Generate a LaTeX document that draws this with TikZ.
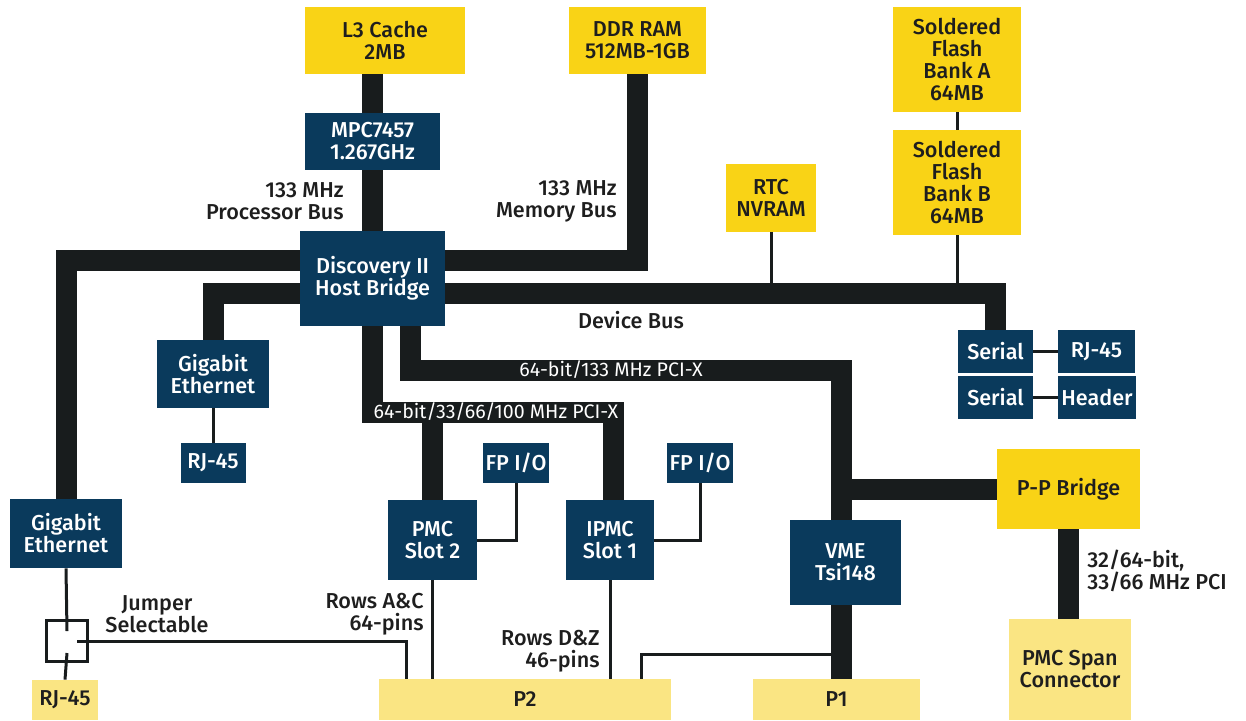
\documentclass[tikz,border=0pt]{standalone}
\usepackage{fontspec}
\setmainfont{Fira Sans}[BoldFont={Fira Sans Medium}]
\usepackage{tikz}
\usetikzlibrary{calc,backgrounds}
\definecolor{navy}{HTML}{0A3A5C}
\definecolor{gold}{HTML}{F9D316}
\definecolor{pale}{HTML}{FAE583}
\definecolor{busink}{HTML}{181C1D}
\definecolor{txt}{HTML}{1E1E1E}
\tikzset{
  sz/.style 2 args={minimum width={#1*0.5pt},minimum height={#2*0.5pt}},
  box/.style={inner sep=0pt,align=center,font=\bfseries\fontsize{10.8}{11}\selectfont},
  navybox/.style={box,fill=navy,text=white},
  goldbox/.style={box,fill=gold,text=txt},
  palebox/.style={box,fill=pale,text=txt},
  bus/.style={line width=10.5pt,draw=busink,line join=miter},
  wire/.style={line width=1.5pt,draw=busink},
  note/.style={inner sep=0pt,text=txt,font=\bfseries\fontsize{10.8}{11}\selectfont},
  buslabel/.style={inner sep=0pt,text=white,font=\fontsize{9.8}{10}\selectfont},
}

\begin{document}
\begin{tikzpicture}[x=0.5pt,y=-0.5pt]
    \useasboundingbox (0,0) rectangle (1246,720);
    % memory and processor
    \node[goldbox,sz={160}{67}] (l3) at (385,40.5) {L3 Cache\\2MB};
    \node[goldbox,sz={137}{67}] (ddr) at (637.5,40.5) {DDR RAM\\512MB-1GB};
    \node[navybox,sz={135}{57}] (mpc) at (372.5,141.5) {MPC7457\\1.267GHz};
    \node[navybox,sz={145}{95}] (disc) at (372.5,278.5) {Discovery II\\Host Bridge};
    % device bus parts
    \node[goldbox,sz={128}{105}] (flashA) at (957,59.5) {Soldered\\Flash\\Bank A\\64MB};
    \node[goldbox,sz={128}{105}] (flashB) at (957,182.5) {Soldered\\Flash\\Bank B\\64MB};
    \node[goldbox,sz={90}{68}] (rtc) at (771,198) {RTC\\NVRAM};
    \node[navybox,sz={75}{43}] (ser1) at (995.5,351.5) {Serial};
    \node[navybox,sz={77}{43}] (rj3) at (1096.5,351.5) {RJ-45};
    \node[navybox,sz={75}{43}] (ser2) at (995.5,397.5) {Serial};
    \node[navybox,sz={78}{43}] (hdr) at (1097,397.5) {Header};
    % ethernet
    \node[navybox,sz={112}{68}] (gbe1) at (213,374) {Gigabit\\Ethernet};
    \node[navybox,sz={65}{40}] (rj1) at (213,463) {RJ-45};
    \node[navybox,sz={112}{69}] (gbe2) at (66,533.5) {Gigabit\\Ethernet};
    \node[draw=busink,line width=1.5pt,sz={41}{41},inner sep=0pt] (jmp) at (67,641) {};
    \node[palebox,sz={66}{40}] (rj2) at (65,700) {RJ-45};
    % pci side
    \node[navybox,sz={89}{80}] (pmc2) at (432.5,540) {PMC\\Slot 2};
    \node[navybox,sz={66}{40}] (fp1) at (516,463) {FP I/O};
    \node[navybox,sz={88}{80}] (ipmc) at (610,540) {IPMC\\Slot 1};
    \node[navybox,sz={66}{40}] (fp2) at (700,463) {FP I/O};
    \node[navybox,sz={111}{85}] (vme) at (845.5,562.5) {VME\\Tsi148};
    \node[goldbox,sz={143}{80}] (ppb) at (1068.5,489) {P-P Bridge};
    \node[palebox,sz={122}{101}] (span) at (1070,669.5) {PMC Span\\Connector};
    \node[palebox,sz={292}{41}] (p2) at (525,699.5) {P2};
    \node[palebox,sz={167}{41}] (p1) at (836.5,699.5) {P1};
    % labels
    \node[note,align=right,anchor=east] (procbus) at (344,201) {133 MHz\\Processor Bus};
    \node[note,align=right,anchor=east] (membus) at (617,201) {133 MHz\\Memory Bus};
    \node[note] (devlbl) at (631,320) {Device Bus};
    \node[note,align=left,anchor=west] (spanlbl) at (1087,571) {32/64-bit,\\33/66 MHz PCI};
    \node[note,align=center] (jmplbl) at (157,614) {Jumper\\Selectable};
    \node[note,align=right,anchor=east] (aclbl) at (424,614) {Rows A\&C\\64-pins};
    \node[note,align=right,anchor=east] (dzlbl) at (600,651) {Rows D\&Z\\46-pins};
    \node[buslabel] (pcixlbl) at (611,370) {64-bit/133 MHz PCI-X};
    \node[buslabel] (pcimlbl) at (496,412) {64-bit/33/66/100 MHz PCI-X};
    % bus levels
    \coordinate (cpubus) at (0,260);
    \coordinate (devbus) at (0,293);
    \coordinate (pcix) at (0,370);
    \coordinate (pcim) at (0,412);
    \coordinate (vx) at (841,0);
    \coordinate (acx) at (406,0);
    \coordinate (dz) at (641,654);
    \begin{scope}[on background layer]
      % thin wires
      \draw[wire] (flashA.south) -- (flashB.north);
      \draw[wire] (flashB.south) -- (flashB.south |- devbus);
      \draw[wire] (rtc.south) -- (rtc.south |- devbus);
      \draw[wire] (ser1.east) -- (rj3.west);
      \draw[wire] (ser2.east) -- (hdr.west);
      \draw[wire] (gbe1.south) -- (rj1.north);
      \draw[wire] (fp1.south) |- (pmc2.east);
      \draw[wire] (fp2.south) |- (ipmc.east);
      \draw[wire] (pmc2.south) -- (pmc2.south |- p2.north);
      \draw[wire] (ipmc.south) -- (ipmc.south |- p2.north);
      \draw[wire] (p2.north -| dz) |- (vx |- dz);
      \draw[wire] (gbe2.south) -- ($(jmp.center)+(0,-10)$);
      \draw[wire] ($(jmp.center)+(0,12)$) -- (rj2.north);
      \draw[wire] ($(jmp.center)+(10,0)$) -| (acx |- p2.north);
      % buses
      \draw[bus] (mpc.north |- l3.south) -- (mpc.north);
      \draw[bus] (mpc.south) -- (disc.north);
      \draw[bus] (gbe2.north) |- (ddr.south |- cpubus) -- (ddr.south);
      \draw[bus] (gbe1.north) |- (ser1.north |- devbus) -- (ser1.north);
      \draw[bus] ($(disc.south)+(38,0)$) |- (vx |- pcix) -- (vx |- vme.north);
      \draw[bus] (disc.south) |- ($(ipmc.north |- pcim)+(3,0)$) -- ($(ipmc.north)+(3,0)$);
      \draw[bus] (pmc2.north |- pcim) -- (pmc2.north);
      \draw[bus] (vx |- ppb.west) -- (ppb.west);
      \draw[bus] (vx |- vme.south) -- (vx |- p1.north);
      \draw[bus] (ppb.south) -- (ppb.south |- span.north);
    \end{scope}
\end{tikzpicture}
\end{document}
